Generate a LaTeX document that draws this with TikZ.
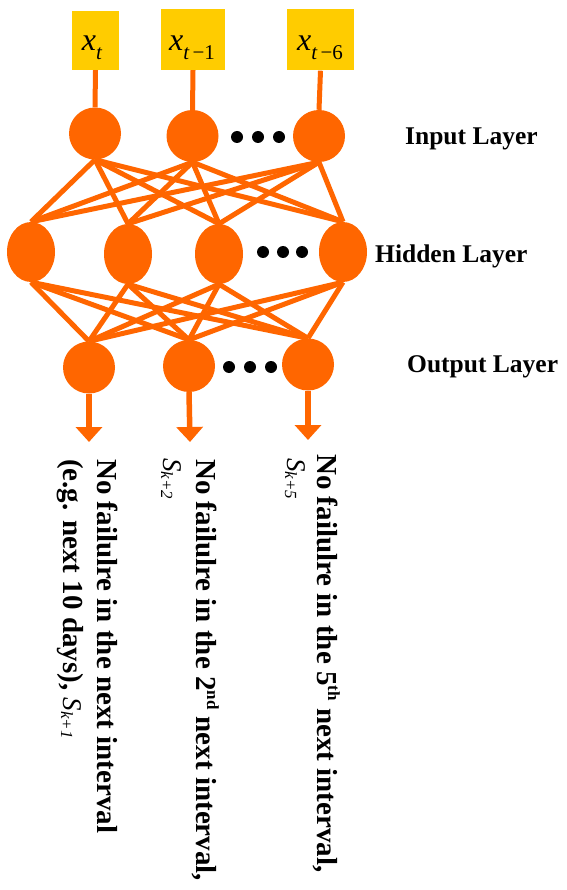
\documentclass[tikz,border=0pt]{standalone}
\usepackage{fontspec}
\setmainfont{Liberation Serif}
\usetikzlibrary{shapes.geometric,arrows.meta,backgrounds}
\definecolor{unitorange}{HTML}{FF6600}
\definecolor{boxyellow}{HTML}{FFCC00}
\newcommand\fsz[1]{\fontsize{#1}{#1}\selectfont}
% x with a lowered subscript
\newcommand\xsub[1]{{\fsz{32}\itshape x\raisebox{-9pt}{\fsz{21}#1}}}
% italic S with a small subscript
\newcommand\ssub[1]{{\fontseries{m}\itshape\fsz{27}S\raisebox{-2pt}{\fsz{17}#1}}}
\newcommand\supr[1]{\raisebox{11pt}{\fsz{17}#1}}

\begin{document}
\begin{tikzpicture}[x=1pt,y=-1pt,
  unit/.style={circle,fill=unitorange,inner sep=0pt,minimum size=52pt},
  hunit/.style={ellipse,fill=unitorange,inner sep=0pt,minimum width=48pt,minimum height=60pt},
  dot/.style={circle,fill=black,inner sep=0pt,minimum size=12pt},
  inbox/.style={fill=boxyellow,inner sep=0pt},
  wire/.style={draw=unitorange,line width=5pt},
  outarrow/.style={draw=unitorange,line width=5.5pt,-{Triangle[width=26pt,length=15pt]}},
  boxtext/.style={anchor=base,inner sep=0pt},
  layerlabel/.style={anchor=base west,inner sep=0pt,font=\bfseries\fsz{25.5}},
  outtext/.style={anchor=base west,rotate=-90,inner sep=0pt,font=\bfseries\fsz{29}},
  ]
\useasboundingbox (0,0) rectangle (566,890);

% input boxes
\node[inbox,minimum width=47pt,minimum height=59pt] (b1) at (95.5,40.5) {};
\node[inbox,minimum width=64pt,minimum height=61pt] (b2) at (193,39.5) {};
\node[inbox,minimum width=67pt,minimum height=61pt] (b3) at (320.5,40) {};
\node[boxtext] (t1) at (92,51) {\xsub{t}};
\node[boxtext] (t2) at (192,51) {\xsub{t\,\upshape−1}};
\node[boxtext] (t3) at (320,51) {\xsub{t\,\upshape−6}};

% input layer
\node[unit] (i1) at (95,133.5) {};
\node[unit] (i2) at (192.5,136) {};
\node[unit] (i3) at (319,136) {};
\node[dot] (di1) at (237,137) {};
\node[dot] (di2) at (258,137) {};
\node[dot] (di3) at (279,137) {};

% hidden layer
\node[hunit] (h1) at (31,252) {};
\node[hunit] (h2) at (128,254) {};
\node[hunit] (h3) at (219,254) {};
\node[hunit] (h4) at (343,252) {};
\node[dot] (dh1) at (263,252) {};
\node[dot] (dh2) at (283,252) {};
\node[dot] (dh3) at (302,252) {};

% output layer
\node[unit] (o1) at (89,367.5) {};
\node[unit] (o2) at (189,366) {};
\node[unit] (o3) at (308,364.5) {};
\node[dot] (do1) at (229,367) {};
\node[dot] (do2) at (250,367) {};
\node[dot] (do3) at (271,367) {};

% weights, stems and outputs go behind the units
\begin{scope}[on background layer]
  \fill[white] (0,0) rectangle (566,890);
  \foreach \i in {1,2,3} \draw[wire] (b\i.south) -- (i\i.north);
  \foreach \i in {1,2,3}
    \foreach \h in {1,2,3,4}
      \draw[wire] (i\i.south) -- (h\h.north);
  \foreach \h in {1,2,3,4}
    \foreach \o in {1,2,3}
      \draw[wire] (h\h.south) -- (o\o.north);
\end{scope}

\coordinate (e1) at (89,442);
\coordinate (e2) at (190,442);
\coordinate (e3) at (308,440);
\draw[outarrow] (o1.south) -- (e1);
\draw[outarrow] (o2.south) -- (e2);
\draw[outarrow] (o3.south) -- (e3);

% layer names
\node[layerlabel] (li) at (405,145) {Input Layer};
\node[layerlabel] (lh) at (375,262) {Hidden Layer};
\node[layerlabel] (lo) at (407,372) {Output Layer};

% output meanings
\node[outtext] (s1a) at (97,459) {No failulre in the next interval};
\node[outtext] (s1b) at (63,459) {(e.g. next 10 days), \ssub{k+1}};
\node[outtext] (s2a) at (196,459) {No failulre in the 2\supr{nd} next interval,};
\node[outtext] (s2b) at (163,458) {\ssub{k+2}};
\node[outtext] (s3a) at (317,454) {No failulre in the 5\supr{th} next interval,};
\node[outtext] (s3b) at (287,458) {\ssub{k+5}};
\end{tikzpicture}
\end{document}
